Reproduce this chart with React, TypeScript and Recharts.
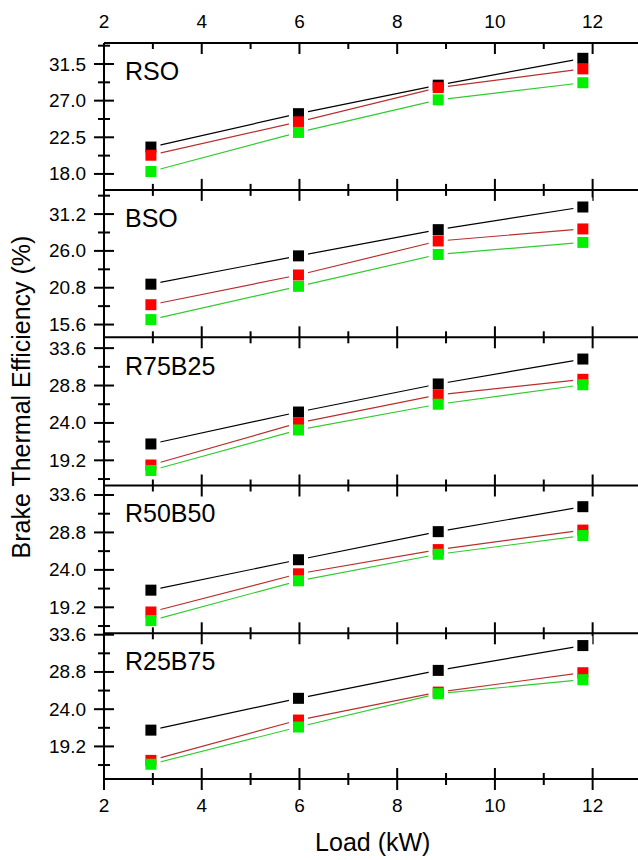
import React from "react";
import { LineChart, Line, XAxis, YAxis } from "recharts";

// load (kW) for the 4 test points
const loads = [2.96, 5.98, 8.84, 11.8];
const xTicks = [2, 3, 4, 5, 6, 7, 8, 9, 10, 11, 12, 13];

// brake thermal efficiency (%) per blend, three series each
const rsoBlack = [21.3, 25.4, 28.9, 32.2];
const rsoRed = [20.3, 24.4, 28.6, 30.9];
const rsoGreen = [18.3, 23.1, 27.1, 29.2];

const bsoBlack = [21.3, 25.3, 29.0, 32.2];
const bsoRed = [18.4, 22.6, 27.4, 29.1];
const bsoGreen = [16.3, 21.0, 25.5, 27.2];

const r75Black = [21.3, 25.4, 29.0, 32.2];
const r75Red = [18.6, 24.0, 27.6, 29.6];
const r75Green = [17.9, 23.1, 26.4, 28.9];

const r50Black = [21.4, 25.3, 28.9, 32.1];
const r50Red = [18.6, 23.5, 26.6, 29.1];
const r50Green = [17.5, 22.6, 26.0, 28.4];

const r25Black = [21.3, 25.4, 29.0, 32.2];
const r25Red = [17.4, 22.6, 26.2, 28.7];
const r25Green = [16.9, 21.7, 26.0, 27.8];

const panelNames = ["RSO", "BSO", "R75B25", "R50B50", "R25B75"];
const panelDomains: [number, number][] = [
  [16.04, 34.08],
  [13.8, 34.6],
  [15.97, 34.9],
  [15.87, 34.88],
  [15.0, 33.82],
];
const majorTicks = [
  [18.0, 22.5, 27.0, 31.5],
  [15.6, 20.8, 26.0, 31.2],
  [19.2, 24.0, 28.8, 33.6],
  [19.2, 24.0, 28.8, 33.6],
  [19.2, 24.0, 28.8, 33.6],
];
const minorTicks = [
  [20.25, 24.75, 29.25, 33.75],
  [18.2, 23.4, 28.6, 33.8],
  [16.8, 21.6, 26.4, 31.2],
  [16.8, 21.6, 26.4, 31.2],
  [16.8, 21.6, 26.4, 31.2],
];
const series = [
  [rsoBlack, rsoRed, rsoGreen],
  [bsoBlack, bsoRed, bsoGreen],
  [r75Black, r75Red, r75Green],
  [r50Black, r50Red, r50Green],
  [r25Black, r25Red, r25Green],
];

// layout
const BOUNDS = [43.3, 190.2, 337.5, 485, 633.3, 779.3];
const CHART_W = 660;
const PLOT_LEFT = 104;
const PLOT_RIGHT = 641.5;
const PAD_T = 40;
const PAD_B = 45;
const FONT = "'Liberation Sans', Arial, sans-serif";

const LINE_COLORS = ["#000000", "#b8302e", "#2fcc2f"];
const MARK_COLORS = ["#000000", "#ff0000", "#00f000"];
const MARK = 11;

const XTick = (props: any) => {
  const { x, y, payload, mode, showLabel } = props;
  const v = payload.value;
  const major = v % 2 === 0;
  const len = major ? 11 : 6;
  let y1 = y - len;
  let y2 = y + len;
  if (mode === "top") {
    y1 = y;
    y2 = y + len;
  }
  return (
    <g>
      <line x1={x} x2={x} y1={y1} y2={y2} stroke="#000" strokeWidth={2} />
      {showLabel && major && v <= 12 ? (
        <text
          x={x}
          y={mode === "top" ? y - 15 : y + 33}
          textAnchor="middle"
          fontSize={19}
          fontFamily={FONT}
          fill="#000"
        >
          {v}
        </text>
      ) : null}
    </g>
  );
};

const YTick = (props: any) => {
  const { x, y, payload, majors } = props;
  const v = payload.value;
  const major = majors.some((m: number) => Math.abs(m - v) < 1e-6);
  const len = major ? 10 : 6;
  return (
    <g>
      <line x1={x - len} x2={x + len} y1={y} y2={y} stroke="#000" strokeWidth={2} />
      {major ? (
        <text
          x={x - 18}
          y={y + 6.5}
          textAnchor="end"
          fontSize={19}
          fontFamily={FONT}
          fill="#000"
        >
          {v.toFixed(1)}
        </text>
      ) : null}
    </g>
  );
};

const Panel = ({ i }: { i: number }) => {
  const top = BOUNDS[i];
  const h = BOUNDS[i + 1] - BOUNDS[i];
  const [black, red, green] = series[i];
  const data = loads.map((load, k) => ({
    load,
    black: black[k],
    red: red[k],
    green: green[k],
  }));
  const keys = ["black", "red", "green"];
  const isFirst = i === 0;
  const isLast = i === BOUNDS.length - 2;
  const yTicks = [...majorTicks[i], ...minorTicks[i]].sort((a, b) => a - b);
  const majors = majorTicks[i];

  return (
    <div style={{ position: "absolute", left: 0, top: top - PAD_T }}>
      <LineChart
        width={CHART_W}
        height={h + PAD_T + PAD_B}
        data={data}
        margin={{
          top: isFirst ? PAD_T - 30 : PAD_T,
          right: CHART_W - PLOT_RIGHT,
          bottom: PAD_B - 30,
          left: PLOT_LEFT - 60,
        }}
      >
        <XAxis
          dataKey="load"
          type="number"
          domain={[2, 13]}
          ticks={xTicks}
          interval={0}
          height={30}
          tickSize={0}
          tickMargin={0}
          axisLine={{ stroke: "#000", strokeWidth: 2 }}
          tickLine={false}
          tick={(p: any) => <XTick {...p} mode="cross" showLabel={isLast} />}
        />
        {isFirst ? (
          <XAxis
            xAxisId="top"
            orientation="top"
            dataKey="load"
            type="number"
            domain={[2, 13]}
            ticks={xTicks}
            interval={0}
            height={30}
            tickSize={0}
            tickMargin={0}
            axisLine={{ stroke: "#000", strokeWidth: 2 }}
            tickLine={false}
            tick={(p: any) => <XTick {...p} mode="top" showLabel />}
          />
        ) : null}
        <YAxis
          type="number"
          domain={panelDomains[i]}
          allowDataOverflow
          ticks={yTicks}
          interval={0}
          width={60}
          tickSize={0}
          tickMargin={0}
          axisLine={{ stroke: "#000", strokeWidth: 2 }}
          tickLine={false}
          tick={(p: any) => <YTick {...p} majors={majors} />}
        />
        {keys.map((k, j) => (
          <Line
            key={"l" + k}
            dataKey={k}
            stroke={LINE_COLORS[j]}
            strokeWidth={1.2}
            dot={false}
            activeDot={false}
            isAnimationActive={false}
          />
        ))}
        {keys.map((k) => (
          <Line
            key={"w" + k}
            dataKey={k}
            stroke="none"
            activeDot={false}
            isAnimationActive={false}
            dot={(p: any) => (
              <rect
                key={"w" + k + p.index}
                x={p.cx - (MARK + 8) / 2}
                y={p.cy - (MARK + 8) / 2}
                width={MARK + 8}
                height={MARK + 8}
                fill="#fff"
              />
            )}
          />
        ))}
        {keys.map((k, j) => (
          <Line
            key={"m" + k}
            dataKey={k}
            stroke="none"
            activeDot={false}
            isAnimationActive={false}
            dot={(p: any) => (
              <rect
                key={"m" + k + p.index}
                x={p.cx - MARK / 2}
                y={p.cy - MARK / 2}
                width={MARK}
                height={MARK}
                fill={MARK_COLORS[j]}
              />
            )}
          />
        ))}
      </LineChart>
    </div>
  );
};

export default function App() {
  return (
    <div
      style={{
        position: "absolute",
        left: 0,
        top: 0,
        width: 638,
        height: 860,
        overflow: "hidden",
        background: "#fff",
        fontFamily: FONT,
      }}
    >
      {panelNames.map((_, i) => (
        <Panel key={i} i={i} />
      ))}
      <svg
        width={638}
        height={860}
        style={{ position: "absolute", left: 0, top: 0, pointerEvents: "none" }}
      >
        {panelNames.map((name, i) => (
          <text
            key={name}
            x={125}
            y={BOUNDS[i] + 37}
            fontSize={25}
            fontFamily={FONT}
            fill="#000"
          >
            {name}
          </text>
        ))}
        <text
          transform="translate(30, 397) rotate(-90)"
          textAnchor="middle"
          fontSize={25}
          fontFamily={FONT}
          fill="#000"
        >
          Brake Thermal Efficiency (%)
        </text>
        <text
          x={(PLOT_LEFT + PLOT_RIGHT) / 2}
          y={851}
          textAnchor="middle"
          fontSize={25}
          fontFamily={FONT}
          fill="#000"
        >
          Load (kW)
        </text>
      </svg>
    </div>
  );
}
